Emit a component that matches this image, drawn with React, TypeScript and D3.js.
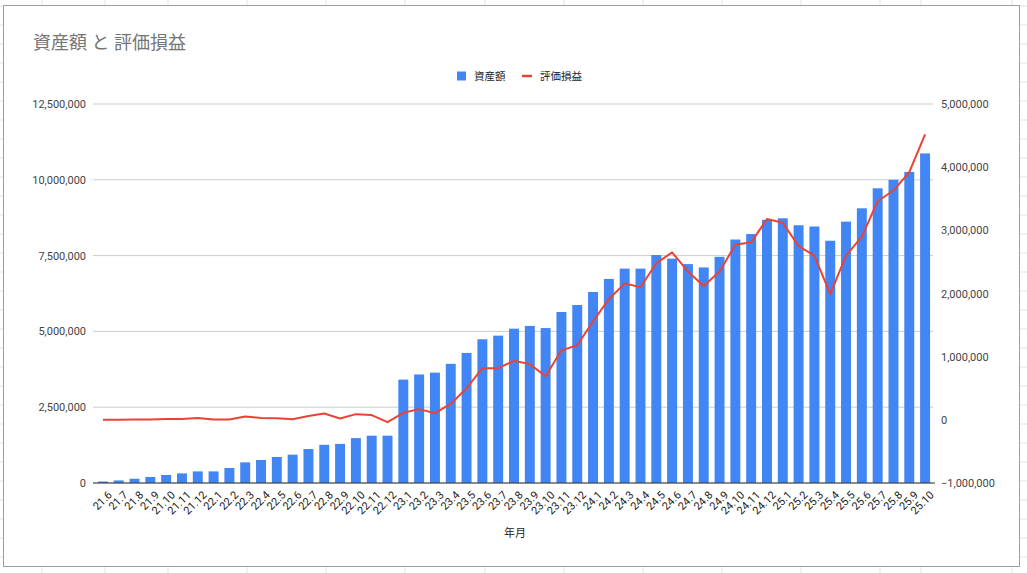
import React from "react";
import * as d3 from "d3";

const categories = [
  "21.6","21.7","21.8","21.9","21.10","21.11","21.12",
  "22.1","22.2","22.3","22.4","22.5","22.6","22.7","22.8","22.9","22.10","22.11","22.12",
  "23.1","23.2","23.3","23.4","23.5","23.6","23.7","23.8","23.9","23.10","23.11","23.12",
  "24.1","24.2","24.3","24.4","24.5","24.6","24.7","24.8","24.9","24.10","24.11","24.12",
  "25.1","25.2","25.3","25.4","25.5","25.6","25.7","25.8","25.9","25.10",
];

const assets = [
  50000, 85000, 140000, 200000, 265000, 317000, 383000,
  383000, 495000, 680000, 760000, 858000, 935000, 1120000, 1260000, 1290000, 1480000, 1560000, 1560000,
  3410000, 3580000, 3640000, 3930000, 4290000, 4740000, 4860000, 5090000, 5180000, 5110000, 5640000, 5870000,
  6300000, 6730000, 7070000, 7070000, 7520000, 7400000, 7220000, 7110000, 7460000, 8030000, 8210000, 8680000,
  8730000, 8500000, 8460000, 7990000, 8620000, 9060000, 9720000, 10000000, 10260000, 10870000,
];

const gains = [
  0, 3000, 5000, 5000, 15000, 15000, 30000,
  5000, 5000, 53000, 30000, 25000, 10000, 60000, 100000, 20000, 90000, 75000, -37000,
  110000, 170000, 105000, 253000, 500000, 818000, 818000, 934000, 882000, 690000, 1100000, 1180000,
  1560000, 1910000, 2160000, 2100000, 2480000, 2650000, 2350000, 2120000, 2350000, 2770000, 2810000, 3180000,
  3120000, 2750000, 2600000, 1990000, 2600000, 2900000, 3460000, 3630000, 3920000, 4520000,
];

const leftTicks = [0, 2500000, 5000000, 7500000, 10000000, 12500000];
const rightTicks = [-1000000, 0, 1000000, 2000000, 3000000, 4000000, 5000000];

const title = "資産額 と 評価損益";
const seriesNames = ["資産額", "評価損益"];
const xTitle = "年月";

const W = 1027;
const H = 573;
const FONT = "Roboto, 'Noto Sans CJK JP', Arial, sans-serif";
const BLUE = "#4285f4";
const RED = "#ea4335";

export default function App() {
  const x = d3.scaleBand<string>().domain(categories).range([95, 933]).paddingInner(0.37).paddingOuter(0.185);
  const yL = d3.scaleLinear().domain([0, 12500000]).range([483, 104]);
  const yR = d3.scaleLinear().domain([-1000000, 5000000]).range([483, 104]);
  const fmt = d3.format(",");
  const cx = (c: string) => (x(c) as number) + x.bandwidth() / 2;

  const line = d3
    .line<number>()
    .x((_, i) => cx(categories[i]))
    .y((d) => yR(d));

  // spreadsheet background lines (outside the chart frame)
  const rowLines = d3.range(0, 31).map((i) => 6 + i * 19);
  const colLines = [42, 105, 168, 247, 326, 405, 485, 564, 643, 722, 801, 880, 921, 1012];

  return (
    <svg
      width={W}
      height={H}
      style={{ position: "absolute", left: 0, top: 0, background: "#fff" }}
      fontFamily={FONT}
    >
      {rowLines.map((y) => (
        <g key={"r" + y}>
          <line x1={0} x2={3} y1={y} y2={y} stroke="#e3e3e3" />
          <line x1={1020} x2={W} y1={y} y2={y} stroke="#e3e3e3" />
        </g>
      ))}
      {colLines.map((xx) => (
        <g key={"c" + xx}>
          <line x1={xx} x2={xx} y1={0} y2={5} stroke="#e3e3e3" />
          <line x1={xx} x2={xx} y1={567} y2={H} stroke="#e3e3e3" />
        </g>
      ))}
      <rect x={3.5} y={5.5} width={1016} height={561} fill="#fff" stroke="#9e9e9e" />

      <text x={33} y={49} fontSize={18} fill="#757575">
        {title}
      </text>

      {/* legend */}
      <rect x={457} y={71.5} width={9} height={9} fill={BLUE} />
      <text x={474} y={80} fontSize={10.5} fill="#222">
        {seriesNames[0]}
      </text>
      <line x1={522} x2={532} y1={76} y2={76} stroke={RED} strokeWidth={2.5} />
      <text x={540} y={80} fontSize={10.5} fill="#222">
        {seriesNames[1]}
      </text>

      {/* gridlines */}
      {leftTicks.map((t) => (
        <line key={"g" + t} x1={93} x2={933} y1={yL(t)} y2={yL(t)} stroke="#cccccc" strokeWidth={1} />
      ))}

      {/* left axis labels */}
      {leftTicks.map((t) => (
        <text key={"l" + t} x={86} y={yL(t) + 4} fontSize={11} fill="#444" textAnchor="end">
          {fmt(t)}
        </text>
      ))}

      {/* right axis labels */}
      {rightTicks.map((t) => (
        <text key={"rt" + t} x={941} y={yR(t) + 4} fontSize={11} fill="#444" textAnchor="start">
          {fmt(t)}
        </text>
      ))}

      {/* bars */}
      {assets.map((v, i) => (
        <rect
          key={"b" + i}
          x={x(categories[i])}
          y={yL(v)}
          width={x.bandwidth()}
          height={yL(0) - yL(v)}
          fill={BLUE}
        />
      ))}

      {/* baseline */}
      <line x1={93} x2={935} y1={483} y2={483} stroke="#333" strokeWidth={1} />

      {/* line series */}
      <path d={line(gains) || ""} fill="none" stroke={RED} strokeWidth={2} strokeLinejoin="round" />

      {/* x labels */}
      {categories.map((c) => (
        <text
          key={"x" + c}
          transform={`translate(${cx(c) + 4},${490}) rotate(-45)`}
          fontSize={11}
          fill="#222"
          textAnchor="end"
          dominantBaseline="hanging"
        >
          {c}
        </text>
      ))}

      <text x={515} y={537} fontSize={11} fill="#222" textAnchor="middle">
        {xTitle}
      </text>
    </svg>
  );
}
